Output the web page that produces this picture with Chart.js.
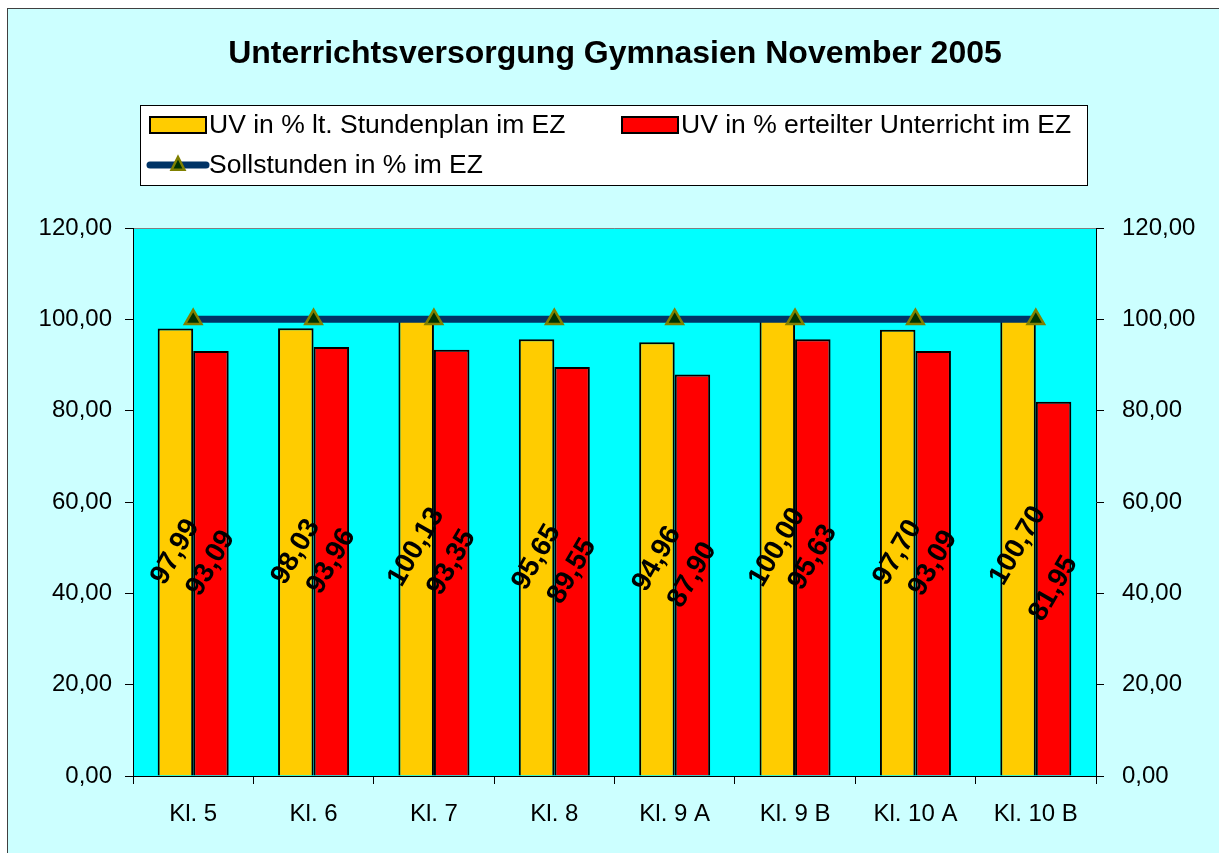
<!DOCTYPE html>
<html>
<head>
<meta charset="utf-8">
<script src="https://cdn.jsdelivr.net/npm/chart.js@4.4.1/dist/chart.umd.min.js"></script>
<style>
    body { margin: 0; background: #ffffff; }
    #wrap { position: absolute; left: 0; top: 0; width: 1219px; height: 853px; }
</style>
</head>
<body>
<div id="wrap"><canvas id="uvChart" width="1219" height="853"></canvas></div>
<script>
// Chart data
const categories = ['Kl. 5', 'Kl. 6', 'Kl. 7', 'Kl. 8', 'Kl. 9 A', 'Kl. 9 B', 'Kl. 10 A', 'Kl. 10 B'];
const planValues = [97.99, 98.03, 100.13, 95.65, 94.96, 100.00, 97.70, 100.70];
const erteiltValues = [93.09, 93.96, 93.35, 89.55, 87.90, 95.63, 93.09, 81.95];
const sollValues = [100, 100, 100, 100, 100, 100, 100, 100];
const yMin = 0;
const yMax = 120;
const yStep = 20;

const titleText = 'Unterrichtsversorgung Gymnasien November 2005';
const FONT = '"Liberation Sans", Arial, sans-serif';

// German number format with comma
function fmt(v) {
    return Number(v).toFixed(2).replace('.', ',');
}

// Background, frame, plot area
const backgroundPlugin = {
    id: 'excelBackground',
    beforeDraw(chart) {
        const ctx = chart.ctx;
        const a = chart.chartArea;
        ctx.save();
        ctx.fillStyle = '#ffffff';
        ctx.fillRect(0, 0, chart.width, chart.height);
        ctx.fillStyle = '#CCFFFF';
        ctx.fillRect(7, 8, chart.width, chart.height);
        ctx.strokeStyle = '#404040';
        ctx.lineWidth = 1;
        ctx.strokeRect(7.5, 8.5, chart.width + 10, chart.height + 10);
        ctx.fillStyle = '#00FFFF';
        ctx.fillRect(a.left, a.top, a.right - a.left, a.bottom - a.top);
        ctx.strokeStyle = '#808080';
        ctx.beginPath();
        ctx.moveTo(a.left, a.top + 0.5);
        ctx.lineTo(a.right, a.top + 0.5);
        ctx.stroke();
        ctx.restore();
    }
};

// Rotated value labels in the middle of each bar
const valueLabelPlugin = {
    id: 'valueLabels',
    afterDatasetsDraw(chart) {
        const ctx = chart.ctx;
        ctx.save();
        ctx.font = 'bold 28px ' + FONT;
        ctx.fillStyle = '#000000';
        ctx.textAlign = 'center';
        ctx.textBaseline = 'middle';
        [0, 1].forEach(i => {
            const meta = chart.getDatasetMeta(i);
            meta.data.forEach((bar, j) => {
                const cy = (bar.y + bar.base) / 2;
                ctx.save();
                ctx.translate(bar.x, cy);
                ctx.rotate(-60 * Math.PI / 180);
                ctx.fillText(fmt(chart.data.datasets[i].data[j]), 0, 0);
                ctx.restore();
            });
        });
        ctx.restore();
    }
};

// Title and legend box drawn like the original sheet
const headerPlugin = {
    id: 'header',
    afterDraw(chart) {
        const ctx = chart.ctx;
        const ds = chart.data.datasets;
        ctx.save();

        ctx.font = 'bold 32px ' + FONT;
        ctx.fillStyle = '#000000';
        ctx.textAlign = 'center';
        ctx.textBaseline = 'middle';
        ctx.fillText(titleText, 615, 54);

        // legend box
        ctx.fillStyle = '#ffffff';
        ctx.fillRect(140, 105, 947, 80);
        ctx.strokeStyle = '#000000';
        ctx.lineWidth = 1;
        ctx.strokeRect(140.5, 105.5, 947, 80);

        ctx.font = '26.5px ' + FONT;
        ctx.textAlign = 'left';
        const items = [
            { x: 150, y: 125, ds: ds[0] },
            { x: 622, y: 125, ds: ds[1] },
            { x: 150, y: 165, ds: ds[2] }
        ];
        items.forEach(it => {
            if (it.ds.type === 'line') {
                ctx.strokeStyle = it.ds.borderColor;
                ctx.lineWidth = 7;
                ctx.lineCap = 'round';
                ctx.beginPath();
                ctx.moveTo(it.x, it.y);
                ctx.lineTo(it.x + 56, it.y);
                ctx.stroke();
                ctx.fillStyle = it.ds.pointBackgroundColor;
                ctx.strokeStyle = it.ds.pointBorderColor;
                ctx.lineWidth = it.ds.pointBorderWidth;
                ctx.beginPath();
                const r = 8;
                const cx = it.x + 28;
                ctx.moveTo(cx, it.y - r);
                ctx.lineTo(cx + r * 0.8, it.y + r * 0.6);
                ctx.lineTo(cx - r * 0.8, it.y + r * 0.6);
                ctx.closePath();
                ctx.fill();
                ctx.stroke();
            } else {
                ctx.fillStyle = it.ds.backgroundColor;
                ctx.fillRect(it.x, it.y - 8, 56, 16);
                ctx.strokeStyle = '#000000';
                ctx.lineWidth = 2;
                ctx.strokeRect(it.x, it.y - 8, 56, 16);
            }
            ctx.fillStyle = '#000000';
            ctx.fillText(it.ds.label, it.x + 59, it.y + 1);
        });
        ctx.restore();
    }
};

const tickFont = { family: FONT, size: 24 };

new Chart(document.getElementById('uvChart'), {
    type: 'bar',
    data: {
        labels: categories,
        datasets: [
            {
                label: 'UV in % lt. Stundenplan im EZ',
                data: planValues,
                backgroundColor: '#FFCC00',
                borderColor: '#000000',
                borderWidth: 2,
                categoryPercentage: 0.59,
                barPercentage: 1.0,
                yAxisID: 'y',
                order: 2
            },
            {
                label: 'UV in % erteilter Unterricht im EZ',
                data: erteiltValues,
                backgroundColor: '#FF0000',
                borderColor: '#000000',
                borderWidth: 2,
                categoryPercentage: 0.59,
                barPercentage: 1.0,
                yAxisID: 'y',
                order: 2
            },
            {
                type: 'line',
                label: 'Sollstunden in % im EZ',
                data: sollValues,
                borderColor: '#003366',
                borderWidth: 7,
                pointStyle: 'triangle',
                pointRadius: 9.5,
                pointBackgroundColor: '#003300',
                pointBorderColor: '#808000',
                pointBorderWidth: 2.5,
                tension: 0,
                yAxisID: 'y',
                order: 0
            }
        ]
    },
    options: {
        responsive: false,
        animation: false,
        devicePixelRatio: 1,
        layout: { padding: { top: 228, left: 0, right: 0, bottom: 0 } },
        plugins: {
            legend: { display: false },
            title: { display: false },
            tooltip: { enabled: false }
        },
        scales: {
            x: {
                grid: {
                    display: true,
                    drawOnChartArea: false,
                    drawTicks: true,
                    tickLength: 8,
                    tickColor: '#000000',
                    offset: true
                },
                border: { display: true, color: '#000000', width: 1 },
                ticks: { color: '#000000', font: tickFont, padding: 16, maxRotation: 0, autoSkip: false },
                afterFit(scale) { scale.height = 77; }
            },
            y: {
                position: 'left',
                min: yMin,
                max: yMax,
                grid: {
                    display: true,
                    drawOnChartArea: false,
                    drawTicks: true,
                    tickLength: 8,
                    tickColor: '#000000'
                },
                border: { display: true, color: '#000000', width: 1 },
                ticks: { stepSize: yStep, color: '#000000', font: tickFont, padding: 13, callback: v => fmt(v) },
                afterFit(scale) { scale.width = 133; }
            },
            y2: {
                position: 'right',
                min: yMin,
                max: yMax,
                grid: {
                    display: true,
                    drawOnChartArea: false,
                    drawTicks: true,
                    tickLength: 8,
                    tickColor: '#000000'
                },
                border: { display: true, color: '#000000', width: 1 },
                ticks: { stepSize: yStep, color: '#000000', font: tickFont, padding: 18, callback: v => fmt(v) },
                afterFit(scale) { scale.width = 123; }
            }
        }
    },
    plugins: [backgroundPlugin, valueLabelPlugin, headerPlugin]
});
</script>
</body>
</html>
